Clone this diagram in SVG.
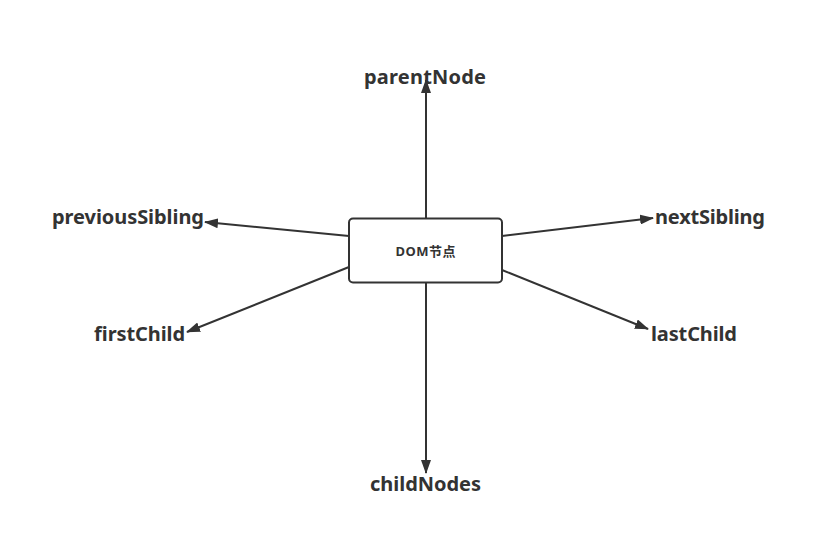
<svg xmlns="http://www.w3.org/2000/svg" width="817" height="544" viewBox="0 0 817 544">
<style>
.lbl{font-family:"Noto Sans","Open Sans","Noto Sans CJK SC",sans-serif;font-weight:bold;font-size:20px;fill:#333}
.edge{stroke:#333;stroke-width:2;fill:none;marker-end:url(#ah)}
</style>
<defs>
<marker id="ah" viewBox="0 0 14 10" refX="13" refY="5" markerWidth="14" markerHeight="10" markerUnits="userSpaceOnUse" orient="auto">
<path d="M0,0 L14,5 L0,10 Z" fill="#333"/>
</marker>
</defs>
<rect width="817" height="544" fill="#fff"/>
<g id="connectors">
<line class="edge" x1="426" y1="218" x2="426" y2="80"/>
<line class="edge" x1="426" y1="283" x2="426" y2="473"/>
<line class="edge" x1="349" y1="236" x2="205" y2="222"/>
<line class="edge" x1="502" y1="236" x2="653" y2="218"/>
<line class="edge" x1="349" y1="267" x2="187" y2="332"/>
<line class="edge" x1="502" y1="270" x2="648" y2="329"/>
</g>
<g id="dom">
<rect x="349" y="218.5" width="153" height="64" rx="4" fill="#fff" stroke="#333" stroke-width="2"/>
<text x="425.5" y="256" text-anchor="middle" textLength="60" style="font-family:'Noto Sans','Noto Sans CJK SC',sans-serif;font-weight:bold;font-size:13px;fill:#333">DOM节点</text>
</g>
<g id="parentNode"><text class="lbl" x="425" y="84" text-anchor="middle" textLength="122">parentNode</text></g>
<g id="childNodes"><text class="lbl" x="425.5" y="491" text-anchor="middle" textLength="111">childNodes</text></g>
<g id="previousSibling"><text class="lbl" x="52" y="224" textLength="152">previousSibling</text></g>
<g id="nextSibling"><text class="lbl" x="655" y="224" textLength="110">nextSibling</text></g>
<g id="firstChild"><text class="lbl" x="94" y="341" textLength="91">firstChild</text></g>
<g id="lastChild"><text class="lbl" x="651" y="341" textLength="86">lastChild</text></g>
</svg>
